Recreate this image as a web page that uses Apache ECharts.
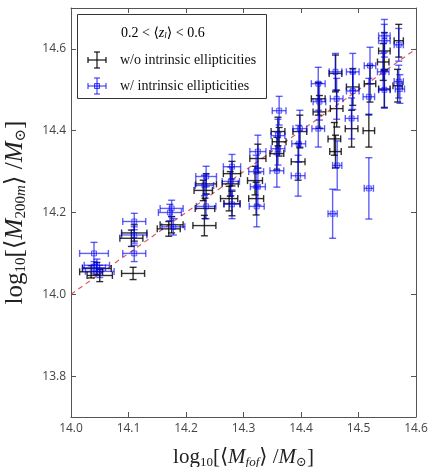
<!DOCTYPE html>
<html><head><meta charset="utf-8">
<script src="https://cdn.jsdelivr.net/npm/echarts@6/dist/echarts.min.js"></script>
<style>html,body{margin:0;padding:0;background:#fff}#c{width:428px;height:467px}</style>
</head><body><div id="c"></div>
<script>
// ---- data ----
const xTicks = [14.0, 14.1, 14.2, 14.3, 14.4, 14.5, 14.6];
const yTicks = [13.8, 14.0, 14.2, 14.4, 14.6];
const oneToOne = [14.0, 14.6];

const blackX    = [14.045,14.05,14.035, 14.11,14.105,14.108, 14.175,14.17, 14.235,14.23,14.233,14.232, 14.28,14.277,14.275,14.28, 14.325,14.32,14.322, 14.36,14.362,14.358, 14.398,14.395, 14.43,14.432, 14.46,14.462,14.458,14.46, 14.49,14.488, 14.52,14.518, 14.545,14.543,14.545, 14.57,14.568];
const blackY    = [14.063,14.046,14.055, 14.150,14.137,14.051, 14.170,14.160, 14.270,14.254,14.210,14.168, 14.295,14.270,14.234,14.222, 14.332,14.278,14.234, 14.398,14.373,14.344, 14.398,14.324, 14.478,14.446, 14.540,14.454,14.380,14.349, 14.507,14.405, 14.515,14.400, 14.595,14.568,14.502, 14.620,14.510];
const blackXErr = [0.025,0.022,0.020, 0.022,0.020,0.020, 0.020,0.020, 0.018,0.016,0.017,0.020, 0.015,0.014,0.015,0.014, 0.014,0.013,0.013, 0.012,0.012,0.012, 0.012,0.012, 0.012,0.011, 0.011,0.011,0.011,0.010, 0.011,0.011, 0.010,0.010, 0.010,0.010,0.010, 0.008,0.008];
const blackYErr = [0.015,0.015,0.015, 0.020,0.020,0.015, 0.020,0.018, 0.025,0.025,0.025,0.025, 0.030,0.030,0.030,0.030, 0.035,0.035,0.040, 0.035,0.035,0.040, 0.040,0.045, 0.040,0.040, 0.045,0.045,0.040,0.040, 0.045,0.045, 0.045,0.040, 0.045,0.045,0.045, 0.040,0.040];

const blueX    = [14.04,14.045,14.05,14.04, 14.11,14.11,14.11, 14.175,14.172,14.178, 14.235,14.232,14.235, 14.28,14.278,14.28, 14.325,14.322,14.325,14.323, 14.362,14.36,14.36,14.358, 14.398,14.396,14.395, 14.43,14.432,14.43, 14.46,14.462,14.463,14.455, 14.49,14.49,14.488, 14.52,14.518,14.518, 14.545,14.545,14.543,14.545, 14.57,14.57,14.572];
const blueY    = [14.100,14.071,14.056,14.065, 14.178,14.145,14.100, 14.210,14.200,14.165, 14.288,14.266,14.215, 14.312,14.276,14.220, 14.349,14.300,14.263,14.215, 14.449,14.388,14.356,14.302, 14.405,14.368,14.290, 14.515,14.471,14.405, 14.544,14.478,14.315,14.197, 14.544,14.497,14.430, 14.559,14.483,14.259, 14.632,14.620,14.544,14.500, 14.610,14.520,14.502];
const blueXErr = [0.025,0.022,0.025,0.020, 0.020,0.022,0.020, 0.020,0.020,0.020, 0.018,0.016,0.017, 0.015,0.015,0.014, 0.014,0.013,0.013,0.013, 0.012,0.012,0.012,0.012, 0.012,0.012,0.012, 0.012,0.011,0.011, 0.011,0.011,0.008,0.008, 0.011,0.011,0.011, 0.010,0.010,0.008, 0.010,0.010,0.010,0.010, 0.008,0.008,0.008];
const blueYErr = [0.027,0.015,0.015,0.015, 0.020,0.020,0.020, 0.020,0.020,0.020, 0.025,0.025,0.030, 0.030,0.035,0.035, 0.040,0.040,0.045,0.050, 0.035,0.040,0.040,0.040, 0.045,0.045,0.050, 0.040,0.045,0.045, 0.045,0.050,0.060,0.060, 0.045,0.045,0.050, 0.045,0.045,0.075, 0.040,0.040,0.045,0.045, 0.040,0.040,0.035];

const nameBlack = 'w/o intrinsic ellipticities';
const nameBlue = 'w/ intrinsic ellipticities';

// ---- build ----
function rows(xs, ys, xe, ye){ return xs.map((x,i)=>[x, ys[i], xe[i], ye[i]]); }
const BLACK = 'rgba(0,0,0,0.8)';
const BLUE = 'rgba(0,0,240,0.62)';
function errRender(color){
  return function(params, api){
    const x=api.value(0), y=api.value(1), xe=api.value(2), ye=api.value(3);
    const l=api.coord([x-xe,y]), r=api.coord([x+xe,y]);
    const t=api.coord([x,y+ye]), b=api.coord([x,y-ye]);
    const cap=3.5;
    const st={stroke:color, lineWidth:1.4, fill:null};
    const L=(x1,y1,x2,y2)=>({type:'line', shape:{x1,y1,x2,y2}, style:st});
    return {type:'group', children:[
      L(l[0],l[1],r[0],r[1]), L(t[0],t[1],b[0],b[1]),
      L(l[0],l[1]-cap,l[0],l[1]+cap), L(r[0],r[1]-cap,r[0],r[1]+cap),
      L(t[0]-cap,t[1],t[0]+cap,t[1]), L(b[0]-cap,b[1],b[0]+cap,b[1])
    ]};
  };
}
function keyGroup(x, y, color, withSquare){
  const st={stroke:color, lineWidth:1.4};
  const kids=[
    [-9,0,9,0],[0,-8,0,8],[-9,-3,-9,3],[9,-3,9,3],[-3,-8,3,-8],[-3,8,3,8]
  ].map(s=>({type:'line', z:20, shape:{x1:x+s[0],y1:y+s[1],x2:x+s[2],y2:y+s[3]}, style:st}));
  if(withSquare) kids.push({type:'rect', z:21, shape:{x:x-2.5,y:y-2.5,width:5,height:5}, style:{fill:'rgba(0,0,255,0.2)', stroke:'rgba(0,0,255,0.7)', lineWidth:1}});
  return kids;
}
const serif = 'Liberation Serif, DejaVu Serif, serif';
const axisCommon = {
  type:'value', min:14.0, max:14.6, interval:0.1,
  axisLine:{show:true, onZero:false, lineStyle:{color:'#555', width:1}},
  axisTick:{show:true, inside:true, length:5, lineStyle:{color:'#555'}},
  splitLine:{show:false}
};
const chart = echarts.init(document.getElementById('c'), null, {renderer:'canvas'});
function mkRich(big, small, pad){
  return {
    a:{fontFamily:serif, fontSize:big, color:'#222'},
    i:{fontFamily:serif, fontSize:big, fontStyle:'italic', color:'#222'},
    s:{fontFamily:serif, fontSize:small, color:'#222', padding:[pad,0,0,0]},
    si:{fontFamily:serif, fontSize:small, fontStyle:'italic', color:'#222', padding:[pad,0,0,0]}
  };
}
chart.setOption({
  animation:false,
  grid:{left:71, right:12, top:8, bottom:50, containLabel:false, outerBoundsMode:'none'},
  xAxis:[
    Object.assign({}, axisCommon, {position:'bottom',
      axisLabel:{show:true, margin:6, color:'#444', fontSize:12, fontFamily:'Open Sans', formatter:v=>v.toFixed(1)},
      name:'{a|log}{s|10}{a|[⟨}{i|M}{si|fof}{a|⟩ /}{i|M}{s|⊙}{a|]}', nameLocation:'middle', nameGap:29,
      nameTextStyle:{rich:mkRich(21,13,10)}
    }),
    Object.assign({}, axisCommon, {position:'top', axisLabel:{show:false}})
  ],
  yAxis:[
    Object.assign({}, axisCommon, {min:13.7, max:14.7, interval:0.2, position:'left',
      axisLabel:{show:true, margin:5, color:'#444', fontSize:12, fontFamily:'Open Sans', formatter:v=>v.toFixed(1),
        customValues: yTicks},
      name:'{a|log}{s|10}{a|[⟨}{i|M}{s|200}{si|m}{a|⟩ /}{i|M}{s|⊙}{a|]}', nameLocation:'middle', nameGap:42, nameRotate:90,
      nameTextStyle:{rich:mkRich(25,15,12)},
      axisTick:{show:true, inside:true, length:5, lineStyle:{color:'#555'}, customValues: yTicks}
    }),
    Object.assign({}, axisCommon, {min:13.7, max:14.7, interval:0.2, position:'right', axisLabel:{show:false},
      axisTick:{show:true, inside:true, length:5, lineStyle:{color:'#555'}, customValues: yTicks}})
  ],
  series:[
    {type:'line', data:[[oneToOne[0],oneToOne[0]],[oneToOne[1],oneToOne[1]]], symbol:'none',
      lineStyle:{color:'rgba(215,60,60,0.85)', width:1.2, type:[5,4]}, z:1},
    {type:'custom', name:nameBlack, data:rows(blackX,blackY,blackXErr,blackYErr), renderItem:errRender(BLACK),
      encode:{x:0,y:1}, clip:true, z:2},
    {type:'custom', name:nameBlue, data:rows(blueX,blueY,blueXErr,blueYErr), renderItem:errRender(BLUE),
      encode:{x:0,y:1}, clip:true, z:3},
    {type:'scatter', data:rows(blueX,blueY,blueXErr,blueYErr).map(r=>[r[0],r[1]]), symbol:'rect', symbolSize:5,
      itemStyle:{color:'rgba(0,0,255,0.18)', borderColor:'rgba(0,0,255,0.7)', borderWidth:1}, z:4}
  ],
  graphic:[
    {type:'rect', z:10, shape:{x:77.5, y:14.5, width:189, height:84}, style:{fill:'#fff', stroke:'#333', lineWidth:1}},
    {type:'text', z:20, x:121, y:33, style:{
      text:'{a|0.2 < ⟨}{i|z}{s|l}{a|⟩ < 0.6}', verticalAlign:'middle',
      rich:{a:{fontFamily:serif, fontSize:14, color:'#111'}, i:{fontFamily:serif, fontSize:14, fontStyle:'italic', color:'#111'},
        s:{fontFamily:serif, fontSize:9, fontStyle:'italic', color:'#111', padding:[6,0,0,0]}}
    }},
    ...keyGroup(97, 60, BLACK, false),
    ...keyGroup(97, 86, BLUE, true),
    {type:'text', z:20, x:120, y:60, style:{text:nameBlack, fontFamily:serif, fontSize:14, fill:'#111', verticalAlign:'middle'}},
    {type:'text', z:20, x:120, y:86, style:{text:nameBlue, fontFamily:serif, fontSize:14, fill:'#111', verticalAlign:'middle'}}
  ]
});
</script>
</body></html>
